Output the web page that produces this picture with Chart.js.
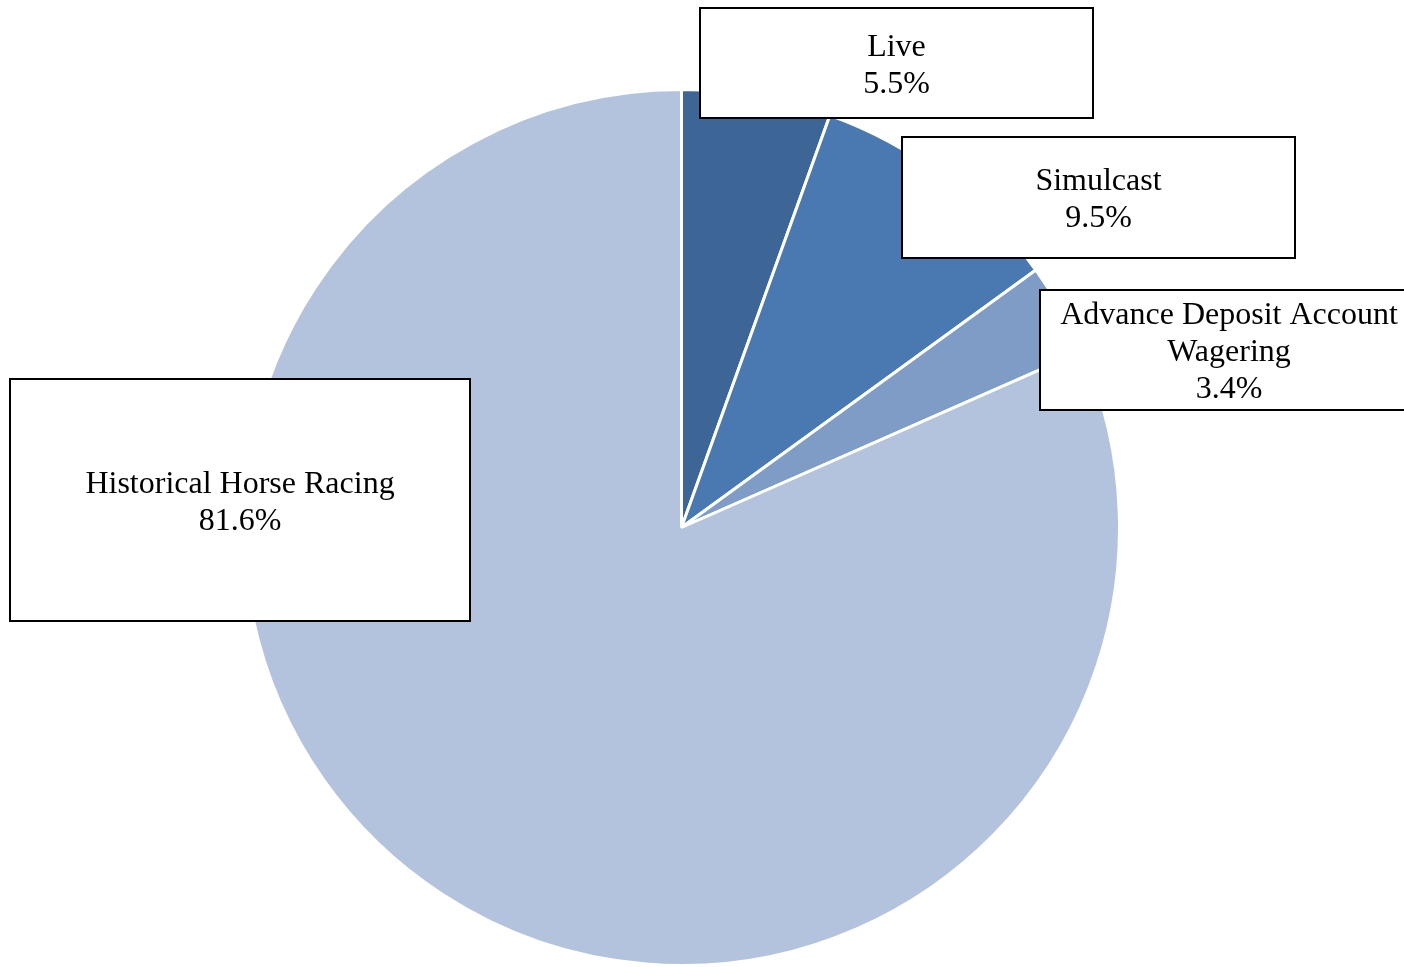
<!DOCTYPE html>
<html>
<head>
<meta charset="utf-8">
<script src="https://cdn.jsdelivr.net/npm/chart.js@4"></script>
<style>
  html, body { margin: 0; padding: 0; background: #ffffff; overflow: hidden; }
  #wrap { width: 1404px; height: 967px; position: relative; }
</style>
</head>
<body>
<div id="wrap"><canvas id="chart"></canvas></div>
<script>
// revenue share by wagering type
const categories = ["Live", "Simulcast", "Advance Deposit Account Wagering", "Historical Horse Racing"];
const labelLines = [["Live"], ["Simulcast"], ["Advance Deposit Account", "Wagering"], ["Historical Horse Racing"]];
const shares = [5.5, 9.5, 3.4, 81.6];
const sliceColors = ["#3d6596", "#4a78b0", "#7f9cc6", "#b4c3dd"];

// callout boxes: left, top, width, height
const boxes = [
  [700, 8, 393, 110],
  [902, 137, 393, 121],
  [1040, 290, 378, 120],
  [10, 379, 460, 242]
];

const calloutPlugin = {
  id: "callouts",
  afterDraw(chart) {
    const ctx = chart.ctx;
    const values = chart.data.datasets[0].data;
    ctx.save();
    ctx.font = "32px 'Liberation Serif', 'Times New Roman', serif";
    ctx.textAlign = "center";
    ctx.textBaseline = "middle";
    boxes.forEach((b, i) => {
      ctx.fillStyle = "#ffffff";
      ctx.fillRect(b[0], b[1], b[2], b[3]);
      ctx.strokeStyle = "#000000";
      ctx.lineWidth = 2;
      ctx.strokeRect(b[0], b[1], b[2], b[3]);
      const lines = labelLines[i].concat([values[i].toFixed(1) + "%"]);
      const lh = 37;
      const cx = b[0] + b[2] / 2;
      const cy = b[1] + b[3] / 2 + 3;
      ctx.fillStyle = "#000000";
      lines.forEach((t, j) => {
        ctx.fillText(t, cx, cy + (j - (lines.length - 1) / 2) * lh);
      });
    });
    ctx.restore();
  }
};

const chart = new Chart(document.querySelector("#chart"), {
  type: "pie",
  data: {
    labels: categories,
    datasets: [{
      data: shares,
      backgroundColor: sliceColors,
      borderColor: "#ffffff",
      borderWidth: 3
    }]
  },
  options: {
    responsive: true,
    maintainAspectRatio: false,
    animation: false,
    layout: { padding: { left: 239, right: 280, top: 88, bottom: -4 } },
    plugins: {
      legend: { display: false },
      tooltip: { enabled: false }
    }
  },
  plugins: [calloutPlugin]
});
</script>
</body>
</html>
